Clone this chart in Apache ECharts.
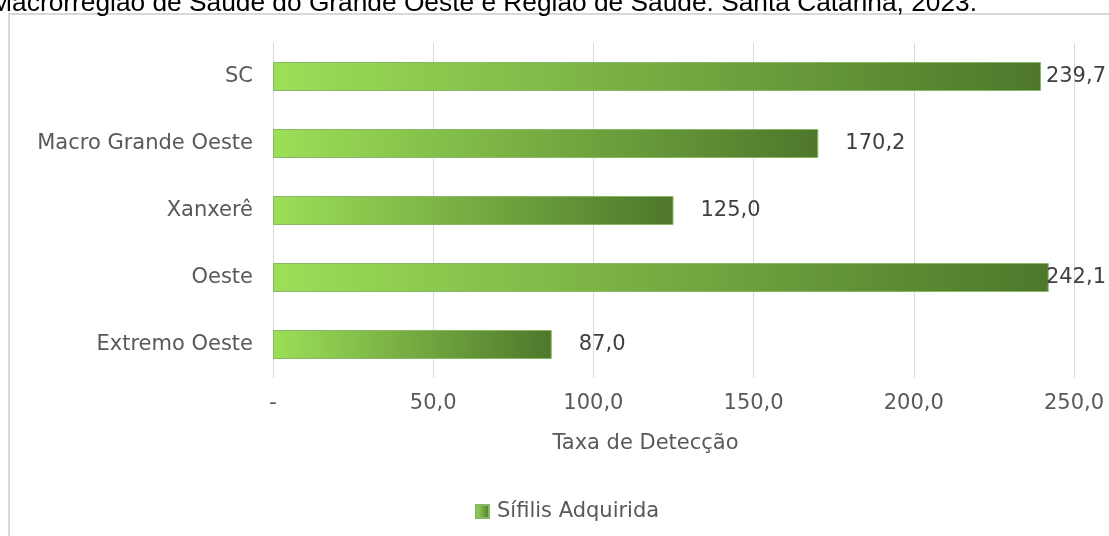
<!DOCTYPE html>
<html>
<head>
<meta charset="utf-8">
<script src="https://cdn.jsdelivr.net/npm/echarts@6/dist/echarts.min.js"></script>
<style>
html,body{margin:0;padding:0;background:#fff;}
#c{width:1109px;height:536px;}
</style>
</head>
<body>
<div id="c"></div>
<script>
var titleText = 'Macrorregião de Saúde do Grande Oeste e Região de Saúde. Santa Catarina, 2023.';
var categories = ['SC', 'Macro Grande Oeste', 'Xanxerê', 'Oeste', 'Extremo Oeste'];
var seriesName = 'Sífilis Adquirida';
var values = [239.7, 170.2, 125.0, 242.1, 87.0];
var xTickLabels = ['-', '50,0', '100,0', '150,0', '200,0', '250,0'];
var axisName = 'Taxa de Detecção';

var chart = echarts.init(document.getElementById('c'), null, {renderer: 'canvas'});
var font = 'DejaVu Sans';
var grad = new echarts.graphic.LinearGradient(0, 0, 1, 0, [
  {offset: 0, color: '#9cdf58'},
  {offset: 1, color: '#4e772b'}
]);
var option = {
  animation: false,
  backgroundColor: '#ffffff',
  graphic: [
    {
      type: 'rect',
      shape: {x: 9, y: 14, width: 1130, height: 560},
      style: {fill: 'none', stroke: '#d9d9d9', lineWidth: 2},
      silent: true, z: -10
    },
    {
      type: 'text',
      right: 132, top: -9,
      style: {text: titleText, font: '26.3px "Liberation Sans", Arial, sans-serif', fill: '#000000'},
      silent: true
    }
  ],
  grid: {left: 273, right: 35, top: 43, bottom: 158, containLabel: false},
  xAxis: {
    type: 'value',
    min: 0, max: 250, interval: 50,
    axisLine: {show: false},
    axisTick: {show: false},
    splitLine: {show: true, lineStyle: {color: '#d9d9d9', width: 1}},
    axisLabel: {
      margin: 15,
      color: '#595959',
      fontFamily: font, fontSize: 21,
      formatter: function (v) { return xTickLabels[Math.round(v / 50)]; }
    },
    name: axisName,
    nameLocation: 'middle',
    nameGap: 55,
    nameTextStyle: {color: '#595959', fontFamily: font, fontSize: 21, padding: [0, 56, 0, 0]}
  },
  yAxis: {
    type: 'category',
    data: categories,
    inverse: true,
    axisLine: {show: true, lineStyle: {color: '#d9d9d9', width: 1}},
    axisTick: {show: false},
    axisLabel: {margin: 20, color: '#595959', fontFamily: font, fontSize: 21}
  },
  legend: {
    left: 470, top: 496,
    itemWidth: 13, itemHeight: 13,
    icon: 'rect',
    data: [seriesName],
    textStyle: {color: '#595959', fontFamily: font, fontSize: 21, padding: [0, 0, 0, 3]}
  },
  series: [{
    name: seriesName,
    type: 'bar',
    data: values,
    barWidth: 29,
    itemStyle: {color: grad, borderColor: '#86b866', borderWidth: 1},
    label: {
      show: true,
      position: 'right',
      distance: 27,
      color: '#404040',
      fontFamily: font, fontSize: 21,
      formatter: function (p) { return p.value.toFixed(1).replace('.', ','); }
    },
    labelLayout: function (params) {
      var r = params.labelRect;
      var over = r.x + r.width - 1106;
      if (over > 0) { return {dx: -over}; }
      return {};
    }
  }]
};
chart.setOption(option);
</script>
</body>
</html>
